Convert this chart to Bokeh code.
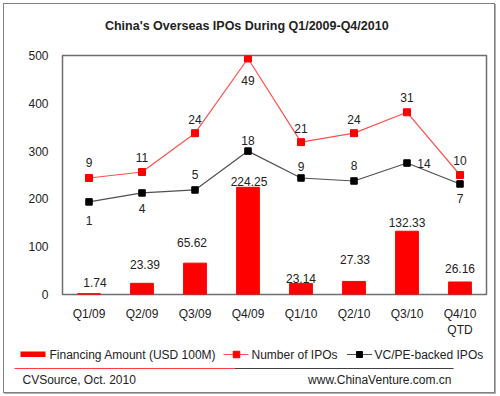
from bokeh.plotting import figure
from bokeh.layouts import column
from bokeh.models import ColumnDataSource, Range1d, FactorRange
from bokeh.core.properties import value
from bokeh.embed import file_html
from bokeh.resources import INLINE

# ---- data ----
quarters = ["Q1/09", "Q2/09", "Q3/09", "Q4/09", "Q1/10", "Q2/10", "Q3/10", "Q4/10\nQTD"]
financing = [1.74, 23.39, 65.62, 224.25, 23.14, 27.33, 132.33, 26.16]
num_ipos = [9, 11, 24, 49, 21, 24, 31, 10]
vcpe_ipos = [1, 4, 5, 18, 9, 8, 14, 7]
y_ticks = [0, 100, 200, 300, 400, 500]

title_text = "China's Overseas  IPOs During Q1/2009-Q4/2010"
legend_labels = ["Financing Amount (USD 100M)", "Number of IPOs", "VC/PE-backed IPOs"]
source_text = "CVSource, Oct.  2010"
site_text = "www.ChinaVenture.com.cn"

# label placement (screen px) - styling only
fin_dx = [6, 3, -3, 1, 0, 1, 0, 0]
fin_dy = [-11, -19, -21, -6, -5, -22, -9, -13]
num_dx = [0, 0, 0, 0, 0, 0, 0, 0]
num_dy = [-15, -15, -14, 22, -14, -14, -15, -15]
vc_dx = [0, 0, 0, 0, 0, 0, 17, 0]
vc_dy = [19, 16, -15, -11, -11, -15, 0, 15]

FONT = "Liberation Sans"
TXT = "#222222"
RED = "#ff0000"
RED_LINE = "#ff5050"
GRAY_LINE = "#505050"

W = 490          # inner width (inside outer frame)
OX, OY = 4, 4    # inner origin in page pixels
H_TITLE, H_MAIN, H_FOOT = 36, 302, 50


def no_align(f):
    try:
        f.frame_align = False
    except Exception:
        pass
    return f


def pixel_fig(height, y0):
    f = figure(width=W, height=height, x_range=Range1d(OX, OX + W),
               y_range=Range1d(y0 + height, y0), output_backend="svg",
               toolbar_location=None, x_axis_type=None, y_axis_type=None,
               min_border=0, min_border_left=0, min_border_right=0,
               min_border_top=0, min_border_bottom=0)
    f.outline_line_color = None
    f.grid.visible = False
    f.background_fill_color = "white"
    f.border_fill_color = "white"
    return no_align(f)


txt = dict(text_font=value(FONT), text_color=TXT, text_baseline="middle")

# ---- title ----
pt = pixel_fig(H_TITLE, OY)
pt.text(x=[248], y=[25], text=[title_text], text_font_size="12.5px",
        text_font_style="bold", text_align="center", **txt)

# ---- main chart ----
top0 = OY + H_TITLE
frame_l, frame_r, frame_t, frame_b = 62, 486, 55, 294
p = figure(width=W, height=H_MAIN, x_range=FactorRange(*quarters), y_range=Range1d(0, 500),
           output_backend="svg", toolbar_location=None,
           min_border_left=frame_l - OX, min_border_right=OX + W - frame_r,
           min_border_top=frame_t - top0, min_border_bottom=top0 + H_MAIN - frame_b)
no_align(p)
p.extra_y_ranges = {"cnt": Range1d(-30, 50)}
p.x_range.range_padding = 0
p.x_range.factor_padding = 0
p.background_fill_color = "white"
p.border_fill_color = "white"
p.outline_line_color = "#6e6e6e"
p.outline_line_width = 1.5
p.grid.visible = False

src = ColumnDataSource(dict(q=quarters, fin=financing, num=num_ipos, vc=vcpe_ipos,
                            fin_lbl=[f"{v:.2f}" for v in financing],
                            num_lbl=[str(v) for v in num_ipos],
                            vc_lbl=[str(v) for v in vcpe_ipos],
                            fin_dx=fin_dx, fin_dy=fin_dy, num_dx=num_dx, num_dy=num_dy,
                            vc_dx=vc_dx, vc_dy=vc_dy))

p.vbar(x="q", top="fin", width=0.43, source=src, fill_color=RED, line_color=RED)
p.line(x="q", y="num", source=src, line_color=RED_LINE, line_width=1.2, y_range_name="cnt")
p.scatter(x="q", y="num", source=src, marker="square", size=7, fill_color=RED,
          line_color=RED, y_range_name="cnt")
p.line(x="q", y="vc", source=src, line_color=GRAY_LINE, line_width=1.2, y_range_name="cnt")
p.scatter(x="q", y="vc", source=src, marker="square", size=6.5, fill_color="#000000",
          line_color="#000000", y_range_name="cnt")

common = dict(text_font=value(FONT), text_font_size="12px", text_color=TXT,
              text_align="center", text_baseline="middle")
p.text(x="q", y="fin", text="fin_lbl", x_offset="fin_dx", y_offset="fin_dy", source=src, **common)
p.text(x="q", y="num", text="num_lbl", x_offset="num_dx", y_offset="num_dy", source=src,
       y_range_name="cnt", **common)
p.text(x="q", y="vc", text="vc_lbl", x_offset="vc_dx", y_offset="vc_dy", source=src,
       y_range_name="cnt", **common)

p.yaxis.ticker = y_ticks
for ax in (p.xaxis[0], p.yaxis[0]):
    ax.axis_line_color = None
    ax.major_tick_line_color = None
    ax.minor_tick_line_color = None
    ax.major_tick_out = 0
    ax.major_tick_in = 0
    ax.minor_tick_out = 0
    ax.major_label_text_font = FONT
    ax.major_label_text_font_size = "12px"
    ax.major_label_text_color = TXT
p.yaxis.major_label_standoff = 14
p.xaxis.major_label_standoff = 12

# ---- legend + footer ----
foot0 = top0 + H_MAIN
pf = pixel_fig(H_FOOT, foot0)
ly = 354
pf.quad(left=[20], right=[45], top=[351], bottom=[356.5], fill_color=RED, line_color=None)
pf.text(x=[49], y=[ly], text=[legend_labels[0]], text_font_size="12px", **txt)
pf.line(x=[223, 248], y=[ly, ly], line_color=RED_LINE, line_width=1.2)
pf.scatter(x=[236], y=[ly], marker="square", size=6.5, fill_color=RED, line_color=RED)
pf.text(x=[251], y=[ly], text=[legend_labels[1]], text_font_size="12px", **txt)
pf.line(x=[346.5, 371.5], y=[ly, ly], line_color=GRAY_LINE, line_width=1.2)
pf.scatter(x=[359], y=[ly], marker="square", size=6, fill_color="#000000", line_color="#000000")
pf.text(x=[374], y=[ly], text=[legend_labels[2]], text_font_size="12px", **txt)

pf.line(x=[14, 234], y=[368, 368], line_color="#ff4040", line_width=1.2)
pf.line(x=[234, 453], y=[368, 368], line_color="#404040", line_width=1.2)
pf.text(x=[22], y=[379], text=[source_text], text_font_size="12px", **txt)
pf.text(x=[451], y=[379], text=[site_text], text_font_size="12px", text_align="right", **txt)

layout = column(pt, p, pf, spacing=0, margin=(3, 0, 0, 3),
                styles={"border": "1px solid #808080", "box-shadow": "1px 1px 0 #b0b0b0"})

open("out.html", "w").write(file_html(layout, INLINE))
